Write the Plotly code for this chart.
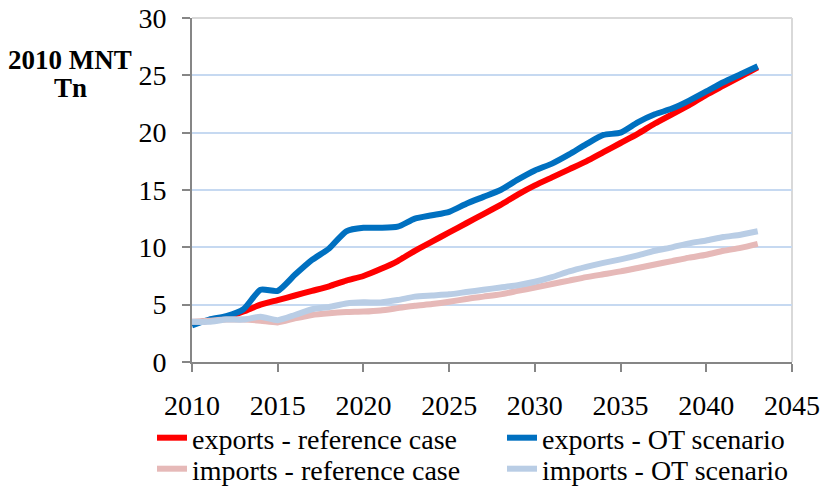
import plotly.graph_objects as go

years = list(range(2010, 2044))

exports_ref = [3.4, 3.6, 3.9, 4.4, 5.0, 5.4, 5.8, 6.2, 6.6, 7.1, 7.5, 8.1, 8.8, 9.7,
               10.5, 11.3, 12.1, 12.9, 13.7, 14.6, 15.4, 16.1, 16.8, 17.5, 18.3, 19.1,
               19.9, 20.8, 21.6, 22.4, 23.3, 24.1, 24.9, 25.7]
exports_ot = [3.2, 3.7, 4.0, 4.6, 6.3, 6.2, 7.6, 8.9, 9.9, 11.4, 11.7, 11.7, 11.8, 12.5,
              12.8, 13.1, 13.8, 14.4, 15.0, 15.9, 16.7, 17.3, 18.1, 19.0, 19.8, 20.0,
              20.9, 21.6, 22.1, 22.8, 23.6, 24.4, 25.1, 25.8]
imports_ref = [3.5, 3.6, 3.7, 3.7, 3.6, 3.45, 3.8, 4.1, 4.25, 4.35, 4.4, 4.5, 4.7, 4.9,
               5.05, 5.25, 5.5, 5.7, 5.9, 6.2, 6.5, 6.8, 7.1, 7.4, 7.65, 7.9, 8.2, 8.5,
               8.8, 9.1, 9.35, 9.7, 9.95, 10.3]
imports_ot = [3.5, 3.5, 3.7, 3.7, 3.95, 3.65, 4.1, 4.6, 4.8, 5.1, 5.2, 5.2, 5.4, 5.7,
              5.8, 5.9, 6.1, 6.3, 6.5, 6.7, 7.0, 7.4, 7.9, 8.3, 8.65, 8.95, 9.3, 9.7,
              10.0, 10.35, 10.6, 10.9, 11.1, 11.4]

series_names = ["exports - reference case", "exports - OT scenario",
                "imports - reference case", "imports - OT scenario"]
series_values = [exports_ref, exports_ot, imports_ref, imports_ot]
series_colors = ["#FF0000", "#0070C0", "#E6B9B8", "#B9CDE5"]
series_legend = ["legend", "legend", "legend2", "legend2"]

x_ticks = [2010, 2015, 2020, 2025, 2030, 2035, 2040, 2045]
y_ticks = [0, 5, 10, 15, 20, 25, 30]
y_title_lines = ["2010 MNT", "Tn"]

FONT = "Liberation Serif"

fig = go.Figure()
for name, vals, col, lg in zip(series_names, series_values, series_colors, series_legend):
    fig.add_trace(go.Scatter(
        x=years, y=vals, name=name, mode="lines", legend=lg,
        line=dict(color=col, width=6, shape="spline", smoothing=0.6),
    ))

axis_col = "#868686"
PL, PR, PT, PB = 192, 792, 18, 362
PW, PH = PR - PL, PB - PT


def legend_box(top_px):
    return dict(
        orientation="h", x=(152 - PL) / PW, y=(PB - top_px) / PH,
        xanchor="left", yanchor="top",
        entrywidth=305, entrywidthmode="pixels",
        font=dict(family=FONT, size=28), tracegroupgap=0,
        bgcolor="rgba(0,0,0,0)", borderwidth=0,
    )


fig.update_layout(
    width=824, height=488,
    margin=dict(l=PL, r=824 - PR, t=PT, b=488 - PB, autoexpand=False),
    paper_bgcolor="white", plot_bgcolor="white",
    font=dict(family=FONT, size=28, color="black"),
    showlegend=True,
    legend=legend_box(413),
    legend2=legend_box(444),
    xaxis=dict(
        range=[2010, 2045], tickvals=x_ticks, ticktext=[str(v) for v in x_ticks],
        showgrid=False, zeroline=False, automargin=False,
        showline=True, linecolor=axis_col, linewidth=2,
        ticks="outside", ticklen=8, tickwidth=2, tickcolor=axis_col,
        ticklabelstandoff=9,
        tickfont=dict(family=FONT, size=28),
    ),
    yaxis=dict(
        range=[0, 30], tickvals=y_ticks, automargin=False,
        showgrid=True, gridcolor="#C6D9F1", gridwidth=1.5, zeroline=False,
        showline=True, linecolor=axis_col, linewidth=2,
        ticks="outside", ticklen=8, tickwidth=2, tickcolor=axis_col,
        ticklabelstandoff=10,
        tickfont=dict(family=FONT, size=28),
    ),
    annotations=[
        dict(text="<b>" + t + "</b>", xref="paper", yref="paper",
             x=(70 - PL) / PW, y=(PB - cy) / PH, xanchor="center", yanchor="middle",
             showarrow=False, font=dict(family=FONT, size=27, color="black"))
        for t, cy in zip(y_title_lines, [60, 88])
    ],
    shapes=[
        dict(type="line", xref="paper", yref="paper", x0=0, x1=1, y0=1, y1=1,
             line=dict(color="#D9D9D9", width=2), layer="below"),
        dict(type="line", xref="paper", yref="paper", x0=1, x1=1, y0=0, y1=1,
             line=dict(color="#D9D9D9", width=2), layer="below"),
    ],
)

fig.write_html("out.html", config={"displayModeBar": False},
               post_script="document.body.style.margin='0';")
